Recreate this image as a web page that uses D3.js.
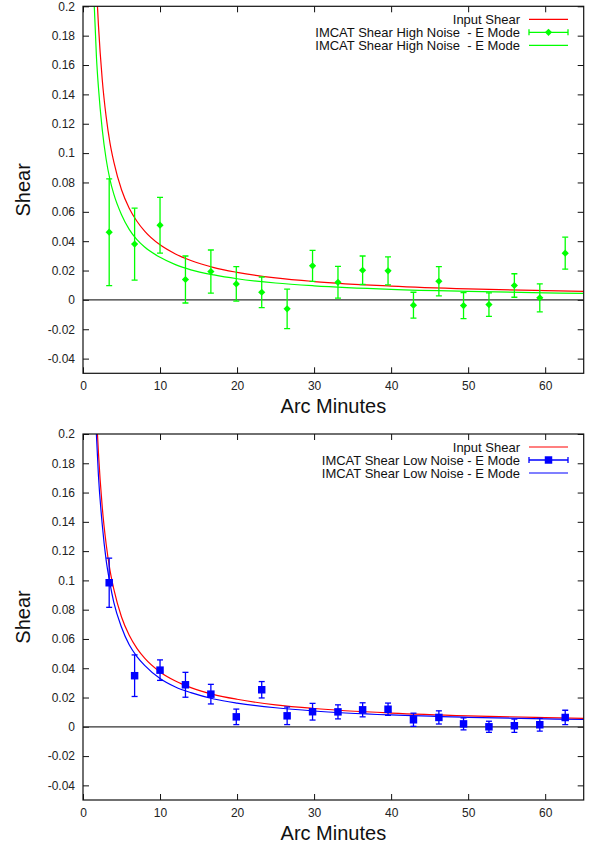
<!DOCTYPE html>
<html>
<head>
<meta charset="utf-8">
<script src="https://cdn.jsdelivr.net/npm/d3@7"></script>
<style>
  body { margin: 0; background: #fff; }
  svg { display: block; font-family: "Liberation Sans", Arial, sans-serif; }
</style>
</head>
<body>
<div id="chart"></div>
<script>
// bin centres (arc minutes), same for both panels
const arcMinutes = [3.4, 6.7, 10.0, 13.3, 16.6, 19.9, 23.2, 26.5, 29.8, 33.1, 36.3, 39.6, 42.9, 46.2, 49.4, 52.7, 56.0, 59.3, 62.6];

const highNoise = [0.0461, 0.038, 0.0509, 0.0139, 0.0193, 0.0109, 0.0052, -0.0061, 0.0232, 0.012, 0.0202, 0.0198, -0.0036, 0.0127, -0.0039, -0.0032, 0.0098, 0.0014, 0.0318];
const highNoiseErr = [0.0364, 0.0245, 0.019, 0.016, 0.0147, 0.0117, 0.0104, 0.0134, 0.0106, 0.0108, 0.0097, 0.0095, 0.0088, 0.01, 0.0089, 0.008, 0.008, 0.0095, 0.0109];

const lowNoise = [0.0984, 0.0349, 0.0387, 0.0287, 0.0223, 0.0068, 0.0253, 0.0075, 0.0103, 0.0102, 0.0116, 0.012, 0.0048, 0.0064, 0.002, 0.0, 0.0007, 0.0014, 0.0064];
const lowNoiseErr = [0.0168, 0.0142, 0.007, 0.0085, 0.0067, 0.0053, 0.0056, 0.006, 0.0057, 0.0048, 0.0048, 0.0042, 0.0045, 0.0045, 0.0041, 0.0038, 0.0045, 0.0043, 0.0049];

// curves
const inputShearX = [1.8, 2, 2.5, 3, 3.5, 4, 5, 6, 7, 8, 10, 12, 14, 17, 20, 25, 30, 40, 50, 60, 65];
const inputShearY = [0.208, 0.1875, 0.15, 0.125, 0.107, 0.094, 0.075, 0.0625, 0.0536, 0.0469, 0.0375, 0.0313, 0.0268, 0.022, 0.0188, 0.015, 0.0125, 0.0094, 0.0075, 0.0063, 0.0058];

const highFitX = [1.4, 1.75, 2, 2.5, 3, 3.5, 4, 5, 6, 7, 8, 10, 12, 14, 17, 20, 25, 30, 40, 50, 60, 65];
const highFitY = [0.208, 0.165, 0.145, 0.116, 0.096, 0.082, 0.072, 0.058, 0.048, 0.041, 0.036, 0.029, 0.024, 0.0205, 0.017, 0.0144, 0.0115, 0.0096, 0.0072, 0.0058, 0.0048, 0.0044];

const lowFitX = [1.68, 2, 2.5, 3, 3.5, 4, 5, 6, 7, 8, 10, 12, 14, 17, 20, 25, 30, 40, 50, 60, 65];
const lowFitY = [0.206, 0.172, 0.138, 0.114, 0.098, 0.085, 0.068, 0.056, 0.048, 0.042, 0.033, 0.0272, 0.0233, 0.019, 0.0162, 0.013, 0.0108, 0.0081, 0.0065, 0.0054, 0.005];

const xTicks = [0, 10, 20, 30, 40, 50, 60];
const yTicks = [-0.04, -0.02, 0, 0.02, 0.04, 0.06, 0.08, 0.1, 0.12, 0.14, 0.16, 0.18, 0.2];

const width = 592, height = 846;

const svg = d3.select('#chart')
    .append('svg')
    .attr('width', width)
    .attr('height', height)
    .attr('viewBox', [0, 0, width, height]);

function drawPanel(opts) {
    const { id, top, bottom, left, right, points, errs, fitX, fitY, color, symbol, symbolSize, rotate, labels } = opts;

    const x = d3.scaleLinear().domain([0, 65]).range([left, right]);
    const y = d3.scaleLinear().domain([-0.05, 0.2]).range([bottom, top]);

    const g = svg.append('g');

    g.append('clipPath')
        .attr('id', 'clip-' + id)
        .append('rect')
        .attr('x', left).attr('y', top)
        .attr('width', right - left).attr('height', bottom - top);

    // axes, ticks pointing inward on all four sides
    const fmt = d => String(+d.toFixed(2));
    const axes = [
        [d3.axisLeft(y).tickValues(yTicks).tickFormat(fmt), `translate(${left},0)`],
        [d3.axisRight(y).tickValues(yTicks).tickFormat(''), `translate(${right},0)`],
        [d3.axisBottom(x).tickValues(xTicks).tickFormat(d => d), `translate(0,${bottom})`],
        [d3.axisTop(x).tickValues(xTicks).tickFormat(''), `translate(0,${top})`]
    ];
    axes.forEach(([axis, tr]) => {
        const a = g.append('g')
            .attr('transform', tr)
            .call(axis.tickSize(-6).tickSizeOuter(0).tickPadding(8));
        a.select('.domain').remove();
        a.selectAll('line').attr('stroke', '#111');
        a.selectAll('text')
            .attr('fill', '#222')
            .style('font-size', '12px')
            .style('font-family', '"Liberation Sans", Arial, sans-serif');
    });

    // zero line
    g.append('line')
        .attr('x1', left).attr('x2', right)
        .attr('y1', y(0)).attr('y2', y(0))
        .attr('stroke', '#333')
        .attr('stroke-width', 1.3);

    const line = d3.line()
        .x(d => x(d[0]))
        .y(d => y(d[1]))
        .curve(d3.curveMonotoneX);

    const plot = g.append('g').attr('clip-path', `url(#clip-${id})`);

    plot.append('path')
        .datum(inputShearX.map((v, i) => [v, inputShearY[i]]))
        .attr('d', line)
        .attr('fill', 'none')
        .attr('stroke', '#ff0000')
        .attr('stroke-width', 1.2);

    plot.append('path')
        .datum(fitX.map((v, i) => [v, fitY[i]]))
        .attr('d', line)
        .attr('fill', 'none')
        .attr('stroke', color)
        .attr('stroke-width', 1.2);

    // error bars
    const data = arcMinutes.map((v, i) => ({ x: v, y: points[i], e: errs[i] }));
    const cap = 3;
    const bars = plot.selectAll('.errbar')
        .data(data)
        .join('g')
        .attr('class', 'errbar')
        .attr('stroke', color)
        .attr('stroke-width', 1.3);
    bars.append('line')
        .attr('x1', d => x(d.x)).attr('x2', d => x(d.x))
        .attr('y1', d => y(d.y - d.e)).attr('y2', d => y(d.y + d.e));
    bars.append('line')
        .attr('x1', d => x(d.x) - cap).attr('x2', d => x(d.x) + cap)
        .attr('y1', d => y(d.y + d.e)).attr('y2', d => y(d.y + d.e));
    bars.append('line')
        .attr('x1', d => x(d.x) - cap).attr('x2', d => x(d.x) + cap)
        .attr('y1', d => y(d.y - d.e)).attr('y2', d => y(d.y - d.e));

    plot.selectAll('.marker')
        .data(data)
        .join('path')
        .attr('class', 'marker')
        .attr('d', d3.symbol(symbol, symbolSize))
        .attr('transform', d => `translate(${x(d.x)},${y(d.y)}) rotate(${rotate})`)
        .attr('fill', color);

    // frame
    g.append('rect')
        .attr('x', left).attr('y', top)
        .attr('width', right - left).attr('height', bottom - top)
        .attr('fill', 'none')
        .attr('stroke', '#111')
        .attr('stroke-width', 1.2);

    // axis titles
    g.append('text')
        .attr('x', (left + right) / 2)
        .attr('y', bottom + 40)
        .attr('text-anchor', 'middle')
        .style('font-size', '20px')
        .attr('fill', '#111')
        .text('Arc Minutes');

    g.append('text')
        .attr('transform', `translate(30,${(top + bottom) / 2}) rotate(-90)`)
        .attr('text-anchor', 'middle')
        .style('font-size', '20px')
        .attr('fill', '#111')
        .text('Shear');

    // legend
    const lx0 = 529, lx1 = 568, tx = 520;
    const rows = [13, 26, 39].map(o => top + o);
    labels.forEach((lab, i) => {
        g.append('text')
            .attr('x', tx)
            .attr('y', rows[i] + 4.5)
            .attr('text-anchor', 'end')
            .style('font-size', '13px')
            .style('white-space', 'pre')
            .attr('fill', '#111')
            .text(lab);
    });
    g.append('line')
        .attr('x1', lx0).attr('x2', lx1).attr('y1', rows[0]).attr('y2', rows[0])
        .attr('stroke', '#ff0000').attr('stroke-width', 1.2);
    const lg = g.append('g').attr('stroke', color).attr('stroke-width', 1.3);
    lg.append('line').attr('x1', lx0).attr('x2', lx1).attr('y1', rows[1]).attr('y2', rows[1]);
    lg.append('line').attr('x1', lx0).attr('x2', lx0).attr('y1', rows[1] - cap).attr('y2', rows[1] + cap);
    lg.append('line').attr('x1', lx1).attr('x2', lx1).attr('y1', rows[1] - cap).attr('y2', rows[1] + cap);
    g.append('path')
        .attr('d', d3.symbol(symbol, symbolSize))
        .attr('transform', `translate(${(lx0 + lx1) / 2},${rows[1]}) rotate(${rotate})`)
        .attr('fill', color);
    g.append('line')
        .attr('x1', lx0).attr('x2', lx1).attr('y1', rows[2]).attr('y2', rows[2])
        .attr('stroke', color).attr('stroke-width', 1.2);
}

drawPanel({
    id: 'high', top: 6.3, bottom: 373.3, left: 83, right: 583.7,
    points: highNoise, errs: highNoiseErr, fitX: highFitX, fitY: highFitY,
    color: '#00ff00', symbol: d3.symbolSquare, symbolSize: 26, rotate: 45,
    labels: ['Input Shear', 'IMCAT Shear High Noise  - E Mode', 'IMCAT Shear High Noise  - E Mode']
});

drawPanel({
    id: 'low', top: 434, bottom: 800, left: 83, right: 583.7,
    points: lowNoise, errs: lowNoiseErr, fitX: lowFitX, fitY: lowFitY,
    color: '#0000ff', symbol: d3.symbolSquare, symbolSize: 56, rotate: 0,
    labels: ['Input Shear', 'IMCAT Shear Low Noise - E Mode', 'IMCAT Shear Low Noise - E Mode']
});
</script>
</body>
</html>
